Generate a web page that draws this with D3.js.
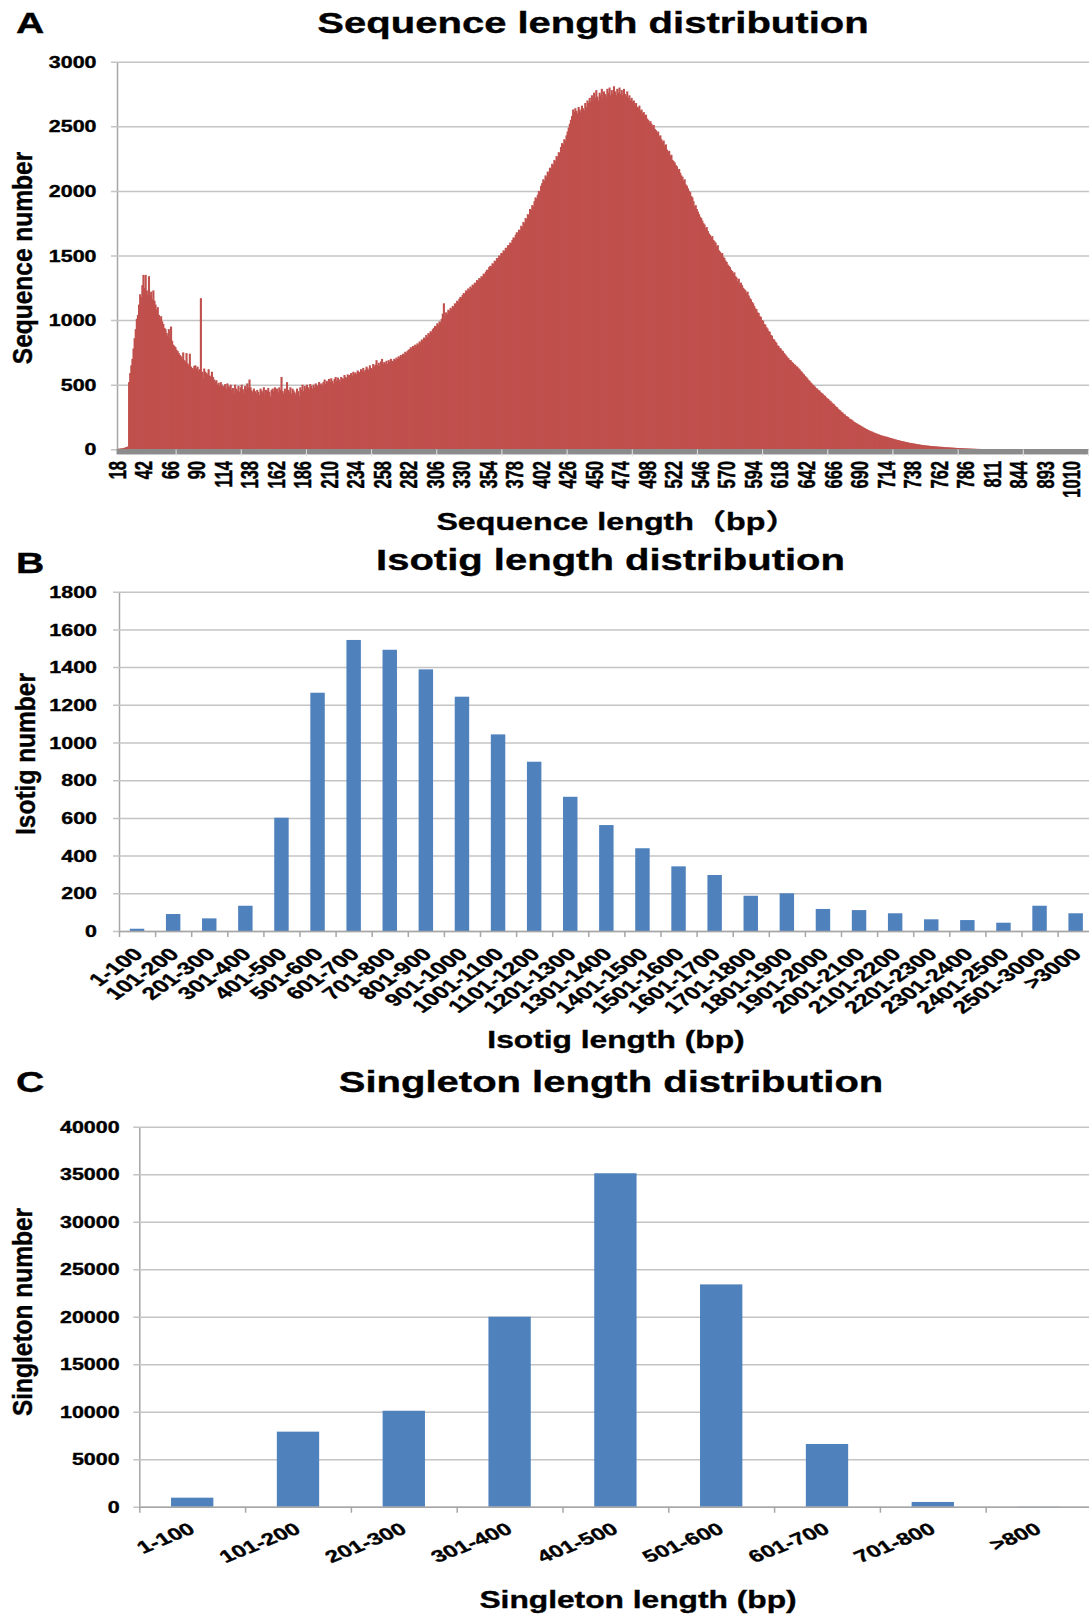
<!DOCTYPE html>
<html>
<head>
<meta charset="utf-8">
<script src="https://cdn.jsdelivr.net/npm/d3@7"></script>
<style>
  body { margin: 0; background: #fff; }
  text { font-family: Arial, "Liberation Sans", "Noto Sans CJK SC", sans-serif; font-weight: bold; fill: #000; stroke: #000; stroke-width: 0.35px; }
</style>
</head>
<body>
<svg id="fig"></svg>
<script>
// ---- data -------------------------------------------------------------
// A: one count per read length; 18..799 are contiguous, after that only the lengths that occur
const seqLengthsTail = [800, 801, 802, 803, 804, 806, 807, 808, 809, 810,
  811, 812, 813, 814, 815, 816, 817, 818, 819, 820, 821, 822, 824, 825, 827, 828, 830, 832, 833, 835, 837, 839, 840, 842,
  844, 846, 847, 849, 851, 852, 854, 856, 858, 859, 861, 863, 865, 866, 868, 870, 872, 874, 876, 878, 881, 884, 887, 890,
  893, 897, 900, 904, 908, 912, 915, 919, 923, 928, 932, 937, 941, 946, 951, 956, 961, 967, 972, 978, 984, 990, 997, 1003,
  1010, 1016, 1024, 1031, 1040, 1052, 1063, 1078, 1094, 1112, 1135, 1160, 1192, 1230, 1288, 1362];
const seqLengths = d3.range(18, 800).concat(seqLengthsTail);

const seqCounts = [
  3, 5, 4, 8, 6, 10, 12, 15, 18, 22, 520, 590, 650, 700, 780, 860, 930, 1010, 1040, 1120, 1200, 1180, 1270, 1350,
  1250, 1350, 1230, 1200, 1340, 1190, 1220, 1160, 1230, 1150, 1120, 1080, 1100, 1040, 1010, 1030, 990, 970, 940, 930, 900, 880, 930, 860,
  950, 840, 810, 800, 790, 770, 760, 745, 730, 720, 700, 750, 690, 680, 745, 665, 650, 740, 640, 630, 620, 645, 650, 625,
  640, 610, 620, 1170, 600, 550, 625, 600, 590, 580, 620, 570, 560, 600, 560, 540, 525, 535, 500, 515, 490, 520, 500, 480,
  490, 505, 470, 510, 490, 480, 500, 460, 475, 430, 500, 470, 455, 490, 445, 480, 500, 465, 435, 490, 470, 510, 480, 540,
  480, 455, 440, 470, 450, 430, 460, 445, 420, 470, 455, 440, 480, 430, 460, 450, 475, 445, 410, 460, 470, 450, 480, 465,
  470, 440, 480, 460, 560, 450, 430, 470, 440, 520, 460, 445, 480, 430, 470, 455, 440, 420, 470, 450, 410, 480, 460, 500,
  450, 490, 470, 500, 480, 460, 505, 490, 470, 500, 480, 510, 495, 485, 520, 500, 510, 495, 520, 540, 505, 530, 515, 545,
  520, 550, 530, 510, 545, 560, 530, 555, 540, 520, 560, 550, 545, 575, 560, 550, 580, 565, 575, 590, 570, 600, 585, 595,
  580, 610, 600, 590, 620, 605, 630, 600, 615, 640, 625, 610, 650, 630, 620, 660, 640, 655, 690, 650, 670, 645, 680, 700,
  660, 675, 665, 685, 660, 690, 675, 700, 685, 680, 700, 690, 710, 700, 720, 710, 730, 720, 740, 730, 755, 745, 760, 770,
  775, 790, 780, 800, 785, 810, 800, 820, 810, 835, 825, 850, 840, 865, 855, 885, 870, 900, 890, 915, 905, 930, 940, 955,
  950, 975, 965, 990, 985, 1010, 1050, 1130, 1020, 1060, 1045, 1080, 1070, 1095, 1085, 1110, 1100, 1130, 1120, 1150, 1140, 1165, 1180, 1175,
  1195, 1210, 1200, 1230, 1220, 1245, 1235, 1260, 1250, 1275, 1270, 1290, 1285, 1310, 1300, 1325, 1320, 1340, 1335, 1360, 1355, 1375, 1390, 1385,
  1410, 1420, 1415, 1440, 1435, 1460, 1455, 1480, 1475, 1500, 1495, 1520, 1515, 1540, 1535, 1560, 1555, 1580, 1575, 1600, 1595, 1620, 1640, 1635,
  1660, 1680, 1670, 1700, 1695, 1730, 1720, 1760, 1750, 1790, 1780, 1820, 1810, 1860, 1850, 1890, 1880, 1920, 1950, 1940, 1970, 2000, 1990, 2040,
  2060, 2090, 2080, 2120, 2110, 2150, 2140, 2180, 2170, 2210, 2200, 2240, 2230, 2270, 2260, 2300, 2290, 2340, 2370, 2360, 2400, 2390, 2430, 2460,
  2490, 2520, 2550, 2580, 2630, 2610, 2640, 2620, 2600, 2650, 2630, 2610, 2660, 2640, 2620, 2680, 2650, 2700, 2680, 2720, 2690, 2740, 2700, 2760,
  2720, 2780, 2730, 2700, 2760, 2740, 2790, 2720, 2770, 2750, 2730, 2790, 2760, 2800, 2740, 2780, 2750, 2810, 2770, 2740, 2790, 2760, 2800, 2750,
  2780, 2740, 2790, 2750, 2730, 2770, 2720, 2740, 2700, 2720, 2690, 2700, 2660, 2680, 2650, 2640, 2660, 2620, 2630, 2600, 2610, 2580, 2590, 2560,
  2550, 2530, 2540, 2520, 2500, 2510, 2480, 2470, 2450, 2460, 2420, 2430, 2400, 2380, 2390, 2350, 2360, 2320, 2300, 2310, 2270, 2280, 2240, 2230,
  2220, 2200, 2190, 2160, 2170, 2140, 2120, 2110, 2080, 2090, 2050, 2040, 2020, 2000, 1990, 1960, 1950, 1920, 1880, 1890, 1860, 1840, 1820, 1800,
  1790, 1770, 1750, 1740, 1710, 1720, 1690, 1670, 1660, 1640, 1650, 1620, 1610, 1600, 1570, 1580, 1540, 1530, 1510, 1520, 1490, 1480, 1460, 1450,
  1430, 1420, 1410, 1390, 1380, 1360, 1370, 1340, 1330, 1300, 1320, 1280, 1290, 1270, 1250, 1240, 1230, 1210, 1220, 1190, 1170, 1160, 1140, 1130,
  1110, 1090, 1085, 1060, 1055, 1030, 1025, 1000, 995, 970, 965, 945, 935, 915, 910, 885, 880, 855, 850, 835, 825, 805, 800, 785,
  780, 765, 760, 745, 735, 725, 712, 705, 692, 690, 676, 670, 658, 655, 642, 640, 628, 620, 608, 600, 588, 580, 568, 560,
  550, 538, 530, 518, 510, 500, 493, 485, 473, 470, 458, 455, 443, 435, 430, 418, 415, 403, 395, 390, 378, 375, 363, 355,
  350, 338, 330, 325, 313, 305, 300, 288, 285, 273, 270, 258, 255, 250, 238, 235, 230, 223, 215, 210, 203, 200, 193, 190,
  185, 178, 175, 168, 165, 158, 155, 150, 145, 143, 138, 136, 130, 128, 123, 121, 116, 115, 110, 109, 104, 104, 99, 99,
  97, 92, 92, 87, 87, 82, 82, 77, 77, 73, 72, 68, 68, 64, 64, 60, 60, 56, 56, 52, 52, 49, 49, 46,
  46, 43, 43, 40, 40, 37, 37, 34, 34, 32, 32, 30, 30, 28, 28, 26, 26, 24, 24, 23, 23, 22, 21, 20,
  20, 19, 19, 18, 17, 16, 16, 15, 15, 14, 13, 13, 12, 12, 11, 11, 10, 10, 9, 9, 8, 8, 7, 7,
  7, 6, 6, 5, 5, 5, 4, 4, 4, 3, 3, 3, 3, 2, 2, 2, 2, 2, 1, 1, 2, 1, 1, 1,
  1, 2, 1, 1, 1, 1, 2, 1, 1, 1, 1, 1, 1, 1, 1, 1, 1, 1, 1, 1, 1, 1, 1, 1,
  1, 1, 1, 1, 1, 1, 1, 1, 1, 1, 1, 1, 1, 1, 1, 1, 1, 1, 1, 1, 1, 1, 1, 1,
  1, 1, 1, 1, 1, 1, 1, 1, 1, 1, 1, 1, 1, 1, 1, 1, 1, 1, 1, 1, 1, 1, 1, 1,
  1, 1, 1, 1, 1, 1, 1, 1, 1, 1, 1, 1, 1, 1, 1, 1
];
const seqTicks = [0, 500, 1000, 1500, 2000, 2500, 3000];
const seqLabelEvery = 24;

// B
const isoCats = ["1-100", "101-200", "201-300", "301-400", "401-500", "501-600", "601-700", "701-800", "801-900",
  "901-1000", "1001-1100", "1101-1200", "1201-1300", "1301-1400", "1401-1500", "1501-1600", "1601-1700", "1701-1800",
  "1801-1900", "1901-2000", "2001-2100", "2101-2200", "2201-2300", "2301-2400", "2401-2500", "2501-3000", ">3000"];
const isoCounts = [12, 90, 67, 134, 601, 1264, 1544, 1492, 1388, 1243, 1043, 898, 712, 562, 439, 343, 297, 187, 200,
  117, 111, 94, 62, 58, 44, 134, 94];
const isoTicks = [0, 200, 400, 600, 800, 1000, 1200, 1400, 1600, 1800];

// C
const sglCats = ["1-100", "101-200", "201-300", "301-400", "401-500", "501-600", "601-700", "701-800", ">800"];
const sglCounts = [950, 7900, 10100, 20000, 35100, 23400, 6600, 500, 20];
const sglTicks = [0, 5000, 10000, 15000, 20000, 25000, 30000, 35000, 40000];

// ---- drawing ----------------------------------------------------------
const W = 1089, H = 1617;
const SX = 1.42;          // the figure is stretched sideways; text follows it
const GRID = "#c4c4c4";

const svg = d3.select("#fig").attr("width", W).attr("height", H);
svg.append("rect").attr("width", W).attr("height", H).attr("fill", "#fff");

function label(g, txt, x, y, opt) {
  const o = Object.assign({ size: 16, sx: SX, rot: 0, anchor: "middle", dy: 0 }, opt);
  return g.append("text")
    .attr("transform", `translate(${x},${y}) scale(${o.sx},1)` + (o.rot ? ` rotate(${o.rot})` : ""))
    .attr("text-anchor", o.anchor)
    .attr("dy", o.dy)
    .style("font-size", o.size + "px")
    .text(txt);
}

function yAxis(g, y, ticks, x0, x1, gap) {
  const ax = g.append("g")
    .attr("transform", `translate(${x0},0)`)
    .call(d3.axisLeft(y).tickValues(ticks).tickSize(6).tickSizeOuter(0).tickFormat(d3.format("d")));
  ax.select(".domain").attr("stroke", "#a6a6a6").attr("stroke-width", 1.5);
  ax.selectAll(".tick line")
    .attr("stroke", GRID).attr("stroke-width", 1.5)
    .attr("x1", -6).attr("x2", x1 - x0);
  ax.selectAll(".tick text")
    .attr("x", 0).attr("dy", "0.35em")
    .attr("transform", `translate(${-gap},0) scale(1.34,1)`)
    .style("font-size", "16px");
  return ax;
}

// ---------- A ----------
const A = { left: 117, right: 1089, top: 61.7, bottom: 449.3 };
const gA = svg.append("g");
label(gA, "A", 16, 33.3, { size: 29, sx: 1.35, anchor: "start" });
label(gA, "Sequence length distribution", 593, 33, { size: 29, sx: 1.38 });

const xA = d3.scaleBand().domain(seqLengths.map(String)).range([A.left, A.right]);
const yA = d3.scaleLinear().domain([0, 3000]).range([A.bottom, A.top]);

yAxis(gA, yA, seqTicks, A.left, W, 20.5);

gA.append("g").selectAll("rect")
  .data(seqCounts)
  .join("rect")
    .attr("x", (d, i) => xA(String(seqLengths[i])))
    .attr("width", xA.bandwidth() + 1)
    .attr("y", d => yA(d))
    .attr("height", d => A.bottom - yA(d))
    .attr("fill", "#c0504d");

const axA = gA.append("g")
  .attr("transform", `translate(0,${A.bottom})`)
  .call(d3.axisBottom(xA).tickSize(5).tickSizeOuter(0).tickFormat(""));
axA.select(".domain").attr("stroke", "#8a8a8a").attr("stroke-width", 1.5);
axA.selectAll(".tick line").attr("stroke", "#8c8c8c").attr("stroke-width", 2);
// the lighter marks that show every 59th category
axA.selectAll(".tick").filter((d, i) => i >= 53 && (i - 53) % 59 === 0).raise()
  .select("line").attr("stroke", "#dcdcdc").attr("stroke-width", 1).attr("y2", 7);

seqLengths.forEach((len, i) => {
  if (i % seqLabelEvery !== 0) return;
  label(gA, String(len), xA(String(len)) + xA.bandwidth() / 2, 461, { size: 16.5, rot: -90, anchor: "end", dy: "0.35em" });
});

label(gA, "Sequence number", 23, 258, { size: 24.5, sx: 1.1, rot: -90, dy: "0.35em" });
label(gA, "Sequence length（bp）", 617, 530, { size: 23, sx: 1.4 });

// ---------- B and C ----------
function barPanel(p) {
  const g = svg.append("g");
  label(g, p.letter, 16, p.letterY, { size: 29, sx: 1.35, anchor: "start" });
  label(g, p.title, p.titleX, p.titleY, { size: 29, sx: 1.38 });

  const n = p.cats.length;
  const x = d3.scaleBand().domain(p.cats).range([p.left, p.left + n * p.step])
    .paddingInner(0.6).paddingOuter(0.3);
  const y = d3.scaleLinear().domain([0, p.max]).range([p.bottom, p.top]);

  yAxis(g, y, p.ticks, p.left, W, p.gap);

  g.append("g").selectAll("rect")
    .data(p.vals)
    .join("rect")
      .attr("x", (d, i) => x(p.cats[i]))
      .attr("width", x.bandwidth())
      .attr("y", d => y(d))
      .attr("height", d => p.bottom - y(d))
      .attr("fill", "#4f81bd");

  // category boundaries for the tick marks
  const xb = d3.scaleLinear().domain([0, n]).range([p.left, p.left + n * p.step]);
  const ax = g.append("g")
    .attr("transform", `translate(0,${p.bottom})`)
    .call(d3.axisBottom(xb).tickValues(d3.range(0, n + 1)).tickSize(6).tickSizeOuter(0).tickFormat(""));
  ax.select(".domain").attr("stroke", "#a6a6a6").attr("stroke-width", 1.5);
  ax.selectAll(".tick line").attr("stroke", "#a6a6a6").attr("stroke-width", 1.5);

  p.cats.forEach(c => {
    label(g, c, x(c) + x.bandwidth() / 2 + p.labelDx, p.labelY, { size: p.labelSize, rot: p.rot, anchor: "end", dy: "0.35em" });
  });

  label(g, p.yTitle, p.yTitleX, p.yTitleY, { size: 24.5, sx: 1.1, rot: -90, dy: "0.35em" });
  label(g, p.xTitle, p.xTitleX, p.xTitleY, { size: 23, sx: 1.38 });
}

barPanel({
  letter: "B", letterY: 573.3, title: "Isotig length distribution", titleX: 610.5, titleY: 570,
  cats: isoCats, vals: isoCounts, ticks: isoTicks, max: 1800,
  left: 119, step: 36.1, top: 591.7, bottom: 931, gap: 22,
  labelY: 951, labelDx: 1, labelSize: 17.5, rot: -45,
  yTitle: "Isotig number", yTitleX: 26, yTitleY: 754,
  xTitle: "Isotig length (bp)", xTitleX: 616, xTitleY: 1048
});

barPanel({
  letter: "C", letterY: 1091.7, title: "Singleton length distribution", titleX: 611, titleY: 1091.7,
  cats: sglCats, vals: sglCounts, ticks: sglTicks, max: 40000,
  left: 139.3, step: 105.8, top: 1126.7, bottom: 1506.7, gap: 19.7,
  labelY: 1527, labelDx: 0, labelSize: 17, rot: -30,
  yTitle: "Singleton number", yTitleX: 23, yTitleY: 1312,
  xTitle: "Singleton length (bp)", xTitleX: 638, xTitleY: 1608
});
</script>
</body>
</html>
